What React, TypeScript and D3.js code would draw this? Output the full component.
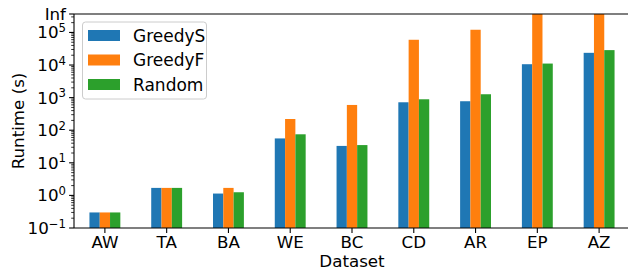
import React, { useRef, useEffect } from 'react';
import * as d3 from 'd3';

const datasets = ['AW', 'TA', 'BA', 'WE', 'BC', 'CD', 'AR', 'EP', 'AZ'];
const seriesNames = ['GreedyS', 'GreedyF', 'Random'];
const greedyS = [0.3, 1.7, 1.14, 56, 33, 720, 775, 10600, 23700];
const greedyF = [0.3, 1.7, 1.7, 221, 596, 59600, 121000, Infinity, Infinity];
const randomV = [0.3, 1.7, 1.25, 75, 35, 890, 1270, 11100, 28700];
const colors = ['#1f77b4', '#ff7f0e', '#2ca02c'];
const yTickExps = [-1, 0, 1, 2, 3, 4, 5];

const W = 628;
const H = 273;
const margin = { left: 74, top: 14, bottom: 45 };
const FONT = 'DejaVu Sans, sans-serif';

const draw = (svgEl: SVGSVGElement) => {
  const svg = d3.select(svgEl);
  svg.selectAll('*').remove();

  const plotRight = 630;
  const plotBottom = H - margin.bottom;
  const yMax = Math.pow(10, 5.566);

  const x = d3.scaleLinear().domain([-0.5, datasets.length - 0.5]).range([margin.left, plotRight]);
  const y = d3.scaleLog().domain([0.1, yMax]).range([plotBottom, margin.top]).clamp(true);
  const unit = x(1) - x(0);
  const barW = unit * 0.5 / 3;

  const all = [greedyS, greedyF, randomV];

  // bars
  all.forEach((vals, si) => {
    svg.append('g')
      .selectAll('rect')
      .data(vals)
      .join('rect')
      .attr('x', (d, i) => x(i) - unit * 0.25 + si * barW)
      .attr('width', barW)
      .attr('y', (d) => y(isFinite(d) ? d : yMax))
      .attr('height', (d) => plotBottom - y(isFinite(d) ? d : yMax))
      .attr('fill', colors[si]);
  });

  // minor ticks
  const minor: number[] = [];
  for (let e = -1; e <= 5; e++) {
    for (let m = 2; m <= 9; m++) {
      const v = m * Math.pow(10, e);
      if (v < yMax) minor.push(v);
    }
  }
  svg.append('g')
    .selectAll('line')
    .data(minor)
    .join('line')
    .attr('x1', margin.left - 2.8)
    .attr('x2', margin.left)
    .attr('y1', (d) => y(d))
    .attr('y2', (d) => y(d))
    .attr('stroke', '#000')
    .attr('stroke-width', 0.8);

  // major ticks
  const gy = svg.append('g').attr('font-family', FONT).attr('fill', '#000');
  yTickExps.forEach((e) => {
    const yy = y(Math.pow(10, e));
    gy.append('line')
      .attr('x1', margin.left - 4.9).attr('x2', margin.left)
      .attr('y1', yy).attr('y2', yy)
      .attr('stroke', '#000').attr('stroke-width', 1.1);
    const t = gy.append('text')
      .attr('x', margin.left - 8)
      .attr('y', yy + 6)
      .attr('text-anchor', 'end')
      .attr('font-size', 16.7);
    t.append('tspan').text('10');
    t.append('tspan')
      .attr('font-size', 11.7)
      .attr('dy', -6.5)
      .text(e < 0 ? '\u2212' + Math.abs(e) : String(e));
  });
  gy.append('line')
    .attr('x1', margin.left - 4.9).attr('x2', margin.left)
    .attr('y1', margin.top).attr('y2', margin.top)
    .attr('stroke', '#000').attr('stroke-width', 1.1);
  gy.append('text')
    .attr('x', margin.left - 8)
    .attr('y', margin.top + 5.5)
    .attr('text-anchor', 'end')
    .attr('font-size', 16.7)
    .text('Inf');

  // x ticks
  const gx = svg.append('g').attr('font-family', FONT);
  datasets.forEach((name, i) => {
    gx.append('line')
      .attr('x1', x(i)).attr('x2', x(i))
      .attr('y1', plotBottom).attr('y2', plotBottom + 4.9)
      .attr('stroke', '#000').attr('stroke-width', 1.1);
    gx.append('text')
      .attr('x', x(i))
      .attr('y', plotBottom + 20)
      .attr('text-anchor', 'middle')
      .attr('font-size', 16.7)
      .text(name);
  });

  // spines
  svg.append('line')
    .attr('x1', margin.left).attr('x2', margin.left)
    .attr('y1', margin.top).attr('y2', plotBottom)
    .attr('stroke', '#000').attr('stroke-width', 1.1);
  svg.append('line')
    .attr('x1', margin.left).attr('x2', plotRight)
    .attr('y1', plotBottom).attr('y2', plotBottom)
    .attr('stroke', '#000').attr('stroke-width', 1.1);
  svg.append('line')
    .attr('x1', margin.left).attr('x2', plotRight)
    .attr('y1', margin.top).attr('y2', margin.top)
    .attr('stroke', '#000').attr('stroke-width', 1.1);

  // axis labels
  svg.append('text')
    .attr('transform', `translate(24,${(margin.top + plotBottom) / 2}) rotate(-90)`)
    .attr('text-anchor', 'middle')
    .attr('font-family', FONT)
    .attr('font-size', 16.7)
    .text('Runtime (s)');
  svg.append('text')
    .attr('x', (margin.left + plotRight) / 2)
    .attr('y', H - 6)
    .attr('text-anchor', 'middle')
    .attr('font-family', FONT)
    .attr('font-size', 16.7)
    .text('Dataset');

  // legend
  const lg = svg.append('g').attr('font-family', FONT);
  lg.append('rect')
    .attr('x', 82.5).attr('y', 22)
    .attr('width', 124).attr('height', 77)
    .attr('rx', 3)
    .attr('fill', '#fff').attr('fill-opacity', 0.8)
    .attr('stroke', '#ccc').attr('stroke-width', 1);
  seriesNames.forEach((name, i) => {
    const yy = 30 + i * 24.5;
    lg.append('rect')
      .attr('x', 88).attr('y', yy)
      .attr('width', 32).attr('height', 11)
      .attr('fill', colors[i]);
    lg.append('text')
      .attr('x', 133).attr('y', yy + 11.5)
      .attr('font-size', 17)
      .text(name);
  });
};

export default function App() {
  const ref = useRef<SVGSVGElement>(null);
  useEffect(() => {
    if (ref.current) draw(ref.current);
  }, []);
  return (
    <svg
      ref={ref}
      width={W}
      height={H}
      style={{ position: 'absolute', left: 0, top: 0, background: '#fff' }}
    />
  );
}
